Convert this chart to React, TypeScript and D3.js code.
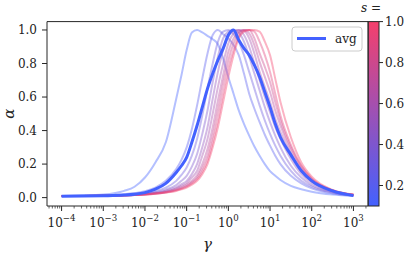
import React from 'react';
import * as d3 from 'd3';

const gammaExp = [-4, -3.5, -3, -2.5, -2.25, -2, -1.75, -1.5, -1.25, -1.125, -1, -0.875, -0.75, -0.625, -0.5, -0.375, -0.25, -0.125, 0, 0.125, 0.25, 0.375, 0.5, 0.625, 0.75, 0.875, 1, 1.125, 1.25, 1.5, 1.75, 2, 2.5, 3];
const sValues = [0.1, 0.2, 0.3, 0.4, 0.5, 0.6, 0.7, 0.8, 0.9, 1.0];

const alphaS01 = [0.010, 0.012, 0.018, 0.040, 0.065, 0.120, 0.210, 0.330, 0.590, 0.730, 0.880, 0.985, 1.000, 0.985, 0.965, 0.945, 0.915, 0.830, 0.720, 0.620, 0.520, 0.440, 0.370, 0.305, 0.250, 0.200, 0.158, 0.130, 0.105, 0.070, 0.050, 0.035, 0.018, 0.010];
const alphaS02 = [0.010, 0.011, 0.013, 0.020, 0.027, 0.038, 0.060, 0.100, 0.170, 0.225, 0.300, 0.410, 0.550, 0.710, 0.860, 0.970, 1.000, 0.975, 0.950, 0.910, 0.850, 0.740, 0.620, 0.530, 0.450, 0.375, 0.310, 0.250, 0.200, 0.130, 0.085, 0.055, 0.025, 0.012];
const alphaS03 = [0.010, 0.010, 0.012, 0.016, 0.020, 0.027, 0.040, 0.060, 0.100, 0.135, 0.180, 0.250, 0.350, 0.490, 0.650, 0.800, 0.930, 0.990, 1.000, 0.975, 0.930, 0.850, 0.750, 0.650, 0.550, 0.460, 0.380, 0.310, 0.250, 0.160, 0.100, 0.065, 0.030, 0.013];
const alphaS04 = [0.010, 0.010, 0.011, 0.015, 0.018, 0.023, 0.032, 0.048, 0.075, 0.100, 0.130, 0.185, 0.260, 0.380, 0.520, 0.690, 0.840, 0.950, 0.990, 1.000, 0.985, 0.930, 0.840, 0.740, 0.640, 0.540, 0.450, 0.370, 0.300, 0.190, 0.120, 0.075, 0.033, 0.014];
const alphaS05 = [0.010, 0.010, 0.011, 0.014, 0.017, 0.021, 0.029, 0.041, 0.062, 0.080, 0.100, 0.140, 0.200, 0.300, 0.420, 0.590, 0.750, 0.880, 0.960, 0.995, 1.000, 0.970, 0.900, 0.800, 0.700, 0.600, 0.510, 0.420, 0.350, 0.230, 0.140, 0.088, 0.037, 0.015];
const alphaS06 = [0.010, 0.010, 0.011, 0.014, 0.016, 0.020, 0.027, 0.037, 0.055, 0.070, 0.087, 0.120, 0.160, 0.250, 0.350, 0.500, 0.660, 0.800, 0.920, 0.980, 1.000, 0.995, 0.950, 0.860, 0.750, 0.660, 0.570, 0.470, 0.390, 0.260, 0.160, 0.100, 0.040, 0.016];
const alphaS07 = [0.010, 0.010, 0.011, 0.013, 0.016, 0.019, 0.025, 0.034, 0.050, 0.062, 0.077, 0.100, 0.135, 0.200, 0.290, 0.420, 0.580, 0.730, 0.870, 0.950, 0.990, 1.000, 0.980, 0.910, 0.810, 0.720, 0.630, 0.520, 0.430, 0.280, 0.170, 0.105, 0.042, 0.017];
const alphaS08 = [0.010, 0.010, 0.011, 0.013, 0.015, 0.019, 0.024, 0.032, 0.046, 0.057, 0.070, 0.092, 0.120, 0.175, 0.250, 0.370, 0.520, 0.680, 0.820, 0.920, 0.980, 1.000, 1.000, 0.950, 0.860, 0.780, 0.690, 0.570, 0.460, 0.300, 0.185, 0.110, 0.043, 0.017];
const alphaS09 = [0.010, 0.010, 0.011, 0.013, 0.015, 0.018, 0.023, 0.031, 0.043, 0.053, 0.065, 0.085, 0.110, 0.155, 0.220, 0.330, 0.460, 0.620, 0.770, 0.880, 0.960, 0.995, 1.000, 0.990, 0.930, 0.850, 0.750, 0.620, 0.490, 0.315, 0.190, 0.115, 0.044, 0.018];
const alphaS10 = [0.010, 0.010, 0.011, 0.013, 0.015, 0.018, 0.023, 0.030, 0.040, 0.049, 0.060, 0.078, 0.100, 0.140, 0.200, 0.300, 0.420, 0.570, 0.720, 0.850, 0.950, 0.990, 1.000, 1.000, 0.990, 0.930, 0.850, 0.710, 0.570, 0.360, 0.210, 0.125, 0.046, 0.018];
const alphaAvg = [0.008, 0.009, 0.011, 0.015, 0.020, 0.030, 0.050, 0.085, 0.150, 0.190, 0.240, 0.330, 0.430, 0.540, 0.650, 0.740, 0.820, 0.890, 0.970, 1.000, 0.940, 0.890, 0.850, 0.790, 0.720, 0.630, 0.540, 0.440, 0.360, 0.255, 0.160, 0.100, 0.040, 0.012];

const seriesAlpha = [alphaS01, alphaS02, alphaS03, alphaS04, alphaS05, alphaS06, alphaS07, alphaS08, alphaS09, alphaS10];

const xTickExps = [-4, -3, -2, -1, 0, 1, 2, 3];
const yTicks = [0, 0.2, 0.4, 0.6, 0.8, 1.0];
const cbTicks = [0.2, 0.4, 0.6, 0.8, 1.0];

const FONT = "'DejaVu Serif', 'Liberation Serif', serif";
const C_LOW = '#4361ff';
const C_HIGH = '#f5406c';

export default function App() {
  const W = 409, H = 253;
  const left = 47, right = 368, top = 21.6, bottom = 206;
  const x = d3.scaleLog().domain([Math.pow(10, -4.35), Math.pow(10, 3.35)]).range([left, right]);
  const y = d3.scaleLinear().domain([-0.05, 1.05]).range([bottom, top]);
  const color = d3.scaleLinear<string>().domain([0.1, 1.0]).range([C_LOW, C_HIGH]).interpolate(d3.interpolateRgb);
  const line = d3.line<number>()
    .x((_, i) => x(Math.pow(10, gammaExp[i])))
    .y((d) => y(d))
    .curve(d3.curveMonotoneX);

  const minor: number[] = [];
  for (let e = -5; e <= 3; e++) {
    for (let m = 2; m <= 9; m++) {
      const v = m * Math.pow(10, e);
      if (v >= x.domain()[0] && v <= x.domain()[1]) minor.push(v);
    }
  }

  const cbLeft = 368.3, cbRight = 379, cbTop = top, cbBottom = bottom;
  const cbScale = d3.scaleLinear().domain([0.1, 1.0]).range([cbBottom, cbTop]);
  const stops = d3.range(0, 1.0001, 0.1);

  const axisColor = '#262626';
  const fs = 12;

  return (
    <svg width={W} height={H} style={{ position: 'absolute', left: 0, top: 0, background: '#fff' }}>
      <defs>
        <linearGradient id="cbgrad" x1="0" y1="1" x2="0" y2="0">
          {stops.map((t) => (
            <stop key={t} offset={t} stopColor={color(0.1 + 0.9 * t)} />
          ))}
        </linearGradient>
        <clipPath id="plotclip">
          <rect x={left} y={top} width={right - left} height={bottom - top} />
        </clipPath>
      </defs>
      <rect x={0} y={0} width={W} height={H} fill="#fff" />

      <g clipPath="url(#plotclip)">
        {seriesAlpha.map((arr, k) => (
          <path key={k} d={line(arr) || ''} fill="none" stroke={color(sValues[k])} strokeOpacity={0.4} strokeWidth={2} />
        ))}
        <path d={line(alphaAvg) || ''} fill="none" stroke={C_LOW} strokeWidth={3} strokeLinejoin="round" />
      </g>

      {/* spines */}
      <line x1={left} x2={left} y1={top} y2={bottom} stroke={axisColor} strokeWidth={1} />
      <line x1={left} x2={right} y1={bottom} y2={bottom} stroke={axisColor} strokeWidth={1} />
      <line x1={left} x2={right} y1={top} y2={top} stroke={axisColor} strokeWidth={1} />
      <line x1={right} x2={right} y1={top} y2={bottom} stroke={axisColor} strokeWidth={1} />

      {/* y ticks */}
      {yTicks.map((t) => (
        <g key={t}>
          <line x1={left - 5} x2={left} y1={y(t)} y2={y(t)} stroke={axisColor} strokeWidth={1} />
          <text x={left - 10} y={y(t)} dy="0.35em" textAnchor="end" fontFamily={FONT} fontSize={fs} fill="#222">{t.toFixed(1)}</text>
        </g>
      ))}

      {/* x ticks */}
      {minor.map((v, i) => (
        <line key={i} x1={x(v)} x2={x(v)} y1={bottom} y2={bottom + 2.5} stroke={axisColor} strokeWidth={0.7} />
      ))}
      {xTickExps.map((e) => (
        <g key={e}>
          <line x1={x(Math.pow(10, e))} x2={x(Math.pow(10, e))} y1={bottom} y2={bottom + 5} stroke={axisColor} strokeWidth={1} />
          <text x={x(Math.pow(10, e))} y={227} textAnchor="middle" fontFamily={FONT} fontSize={fs} fill="#222">
            10<tspan fontSize={fs * 0.72} dy={-6}>{e < 0 ? '\u2212' + Math.abs(e) : String(e)}</tspan>
          </text>
        </g>
      ))}

      {/* axis labels */}
      <text x={(left + right) / 2} y={249} textAnchor="middle" fontFamily={FONT} fontSize={15} fontStyle="italic" fill="#222">γ</text>
      <text transform={`translate(14,${(top + bottom) / 2}) rotate(-90)`} textAnchor="middle" fontFamily={FONT} fontSize={15} fontStyle="italic" fill="#222">α</text>

      {/* legend */}
      <rect x={292} y={27} width={70} height={24} rx={3} fill="#fff" fillOpacity={0.8} stroke="#cccccc" strokeWidth={1} />
      <line x1={297} x2={326} y1={38.5} y2={38.5} stroke={C_LOW} strokeWidth={3} />
      <text x={335} y={42.5} fontFamily={FONT} fontSize={fs} fill="#222">avg</text>

      {/* colorbar */}
      <rect x={cbLeft} y={cbTop} width={cbRight - cbLeft} height={cbBottom - cbTop} fill="url(#cbgrad)" stroke={axisColor} strokeWidth={1} />
      {cbTicks.map((t) => (
        <g key={t}>
          <line x1={cbRight} x2={cbRight + 4} y1={cbScale(t)} y2={cbScale(t)} stroke={axisColor} strokeWidth={1} />
          <text x={cbRight + 6} y={cbScale(t)} dy="0.35em" fontFamily={FONT} fontSize={fs} fill="#222">{t.toFixed(1)}</text>
        </g>
      ))}
      <text x={371} y={12} textAnchor="middle" fontFamily={FONT} fontSize={fs} fill="#222"><tspan fontStyle="italic">s</tspan> =</text>
    </svg>
  );
}
